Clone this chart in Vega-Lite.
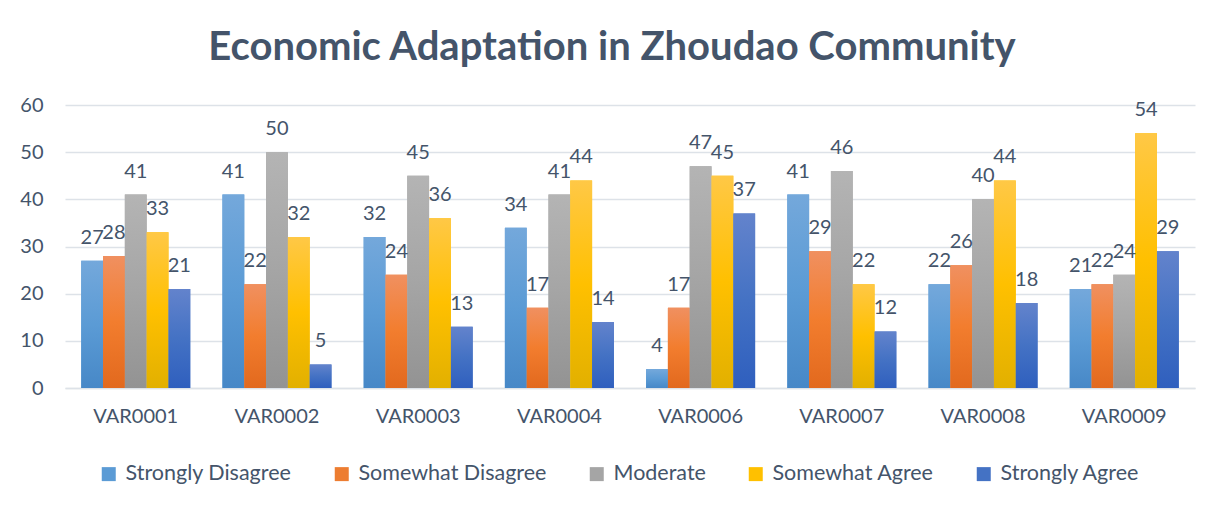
{
  "$schema": "https://vega.github.io/schema/vega-lite/v6.json",
  "width": 1130,
  "height": 283,
  "autosize": "none",
  "padding": {"left": 65, "top": 105, "right": 30, "bottom": 123},
  "background": "white",
  "config": {
    "font": "Lato",
    "view": {"stroke": null},
    "axis": {"labelColor": "#44546A", "labelFont": "Lato", "labelFontSize": 20, "domainColor": "#DDE2E8", "gridColor": "#DDE2E8", "gridWidth": 1.5, "domainWidth": 1.5, "ticks": false, "title": null},
    "legend": {"labelColor": "#44546A", "labelFont": "Lato", "labelFontSize": 21.5, "labelLimit": 400}
  },
  "title": {
    "text": "Economic Adaptation in Zhoudao Community",
    "font": "Lato",
    "fontSize": 40,
    "fontWeight": "bold",
    "color": "#44546A",
    "anchor": "middle",
    "frame": "group",
    "baseline": "alphabetic",
    "offset": -5,
    "dx": -18
  },
  "data": {
    "values": [
      {"var": "VAR0001", "resp": "Strongly Disagree", "value": 27},
      {"var": "VAR0001", "resp": "Somewhat Disagree", "value": 28},
      {"var": "VAR0001", "resp": "Moderate", "value": 41},
      {"var": "VAR0001", "resp": "Somewhat Agree", "value": 33},
      {"var": "VAR0001", "resp": "Strongly Agree", "value": 21},
      {"var": "VAR0002", "resp": "Strongly Disagree", "value": 41},
      {"var": "VAR0002", "resp": "Somewhat Disagree", "value": 22},
      {"var": "VAR0002", "resp": "Moderate", "value": 50},
      {"var": "VAR0002", "resp": "Somewhat Agree", "value": 32},
      {"var": "VAR0002", "resp": "Strongly Agree", "value": 5},
      {"var": "VAR0003", "resp": "Strongly Disagree", "value": 32},
      {"var": "VAR0003", "resp": "Somewhat Disagree", "value": 24},
      {"var": "VAR0003", "resp": "Moderate", "value": 45},
      {"var": "VAR0003", "resp": "Somewhat Agree", "value": 36},
      {"var": "VAR0003", "resp": "Strongly Agree", "value": 13},
      {"var": "VAR0004", "resp": "Strongly Disagree", "value": 34},
      {"var": "VAR0004", "resp": "Somewhat Disagree", "value": 17},
      {"var": "VAR0004", "resp": "Moderate", "value": 41},
      {"var": "VAR0004", "resp": "Somewhat Agree", "value": 44},
      {"var": "VAR0004", "resp": "Strongly Agree", "value": 14},
      {"var": "VAR0006", "resp": "Strongly Disagree", "value": 4},
      {"var": "VAR0006", "resp": "Somewhat Disagree", "value": 17},
      {"var": "VAR0006", "resp": "Moderate", "value": 47},
      {"var": "VAR0006", "resp": "Somewhat Agree", "value": 45},
      {"var": "VAR0006", "resp": "Strongly Agree", "value": 37},
      {"var": "VAR0007", "resp": "Strongly Disagree", "value": 41},
      {"var": "VAR0007", "resp": "Somewhat Disagree", "value": 29},
      {"var": "VAR0007", "resp": "Moderate", "value": 46},
      {"var": "VAR0007", "resp": "Somewhat Agree", "value": 22},
      {"var": "VAR0007", "resp": "Strongly Agree", "value": 12},
      {"var": "VAR0008", "resp": "Strongly Disagree", "value": 22},
      {"var": "VAR0008", "resp": "Somewhat Disagree", "value": 26},
      {"var": "VAR0008", "resp": "Moderate", "value": 40},
      {"var": "VAR0008", "resp": "Somewhat Agree", "value": 44},
      {"var": "VAR0008", "resp": "Strongly Agree", "value": 18},
      {"var": "VAR0009", "resp": "Strongly Disagree", "value": 21},
      {"var": "VAR0009", "resp": "Somewhat Disagree", "value": 22},
      {"var": "VAR0009", "resp": "Moderate", "value": 24},
      {"var": "VAR0009", "resp": "Somewhat Agree", "value": 54},
      {"var": "VAR0009", "resp": "Strongly Agree", "value": 29}
    ]
  },
  "encoding": {
    "x": {"field": "var", "type": "nominal", "scale": {"paddingInner": 0.228, "paddingOuter": 0.115}, "axis": {"labelAngle": 0, "labelPadding": 18, "grid": false}},
    "xOffset": {"field": "resp", "type": "nominal", "scale": {"domain": ["Strongly Disagree", "Somewhat Disagree", "Moderate", "Somewhat Agree", "Strongly Agree"], "paddingInner": 0, "paddingOuter": 0}},
    "y": {"field": "value", "type": "quantitative", "scale": {"domain": [0, 60]}, "axis": {"values": [0, 10, 20, 30, 40, 50, 60], "labelPadding": 22, "domain": false, "grid": true}}
  },
  "layer": [
    {
      "mark": {"type": "bar"},
      "encoding": {
        "color": {"field": "resp", "type": "nominal",
          "scale": {"domain": ["Strongly Disagree", "Somewhat Disagree", "Moderate", "Somewhat Agree", "Strongly Agree"], "range": ["#5B9BD5", "#ED7D31", "#A5A5A5", "#FFC000", "#4472C4"]},
          "legend": {"orient": "none", "direction": "horizontal", "title": null, "legendX": 33, "legendY": 358, "symbolType": "square", "symbolSize": 196, "symbolStrokeWidth": 0, "labelOffset": 6, "columnPadding": 39}}
      }
    },
    {
      "transform": [{"filter": "datum.resp === 'Strongly Disagree'"}],
      "mark": {"type": "bar", "fill": {"gradient": "linear", "x1": 0, "y1": 0, "x2": 0, "y2": 1, "stops": [{"offset": 0, "color": "#74A8DB"}, {"offset": 0.5, "color": "#5B9BD5"}, {"offset": 1, "color": "#4788C7"}]}}
    },
    {
      "transform": [{"filter": "datum.resp === 'Somewhat Disagree'"}],
      "mark": {"type": "bar", "fill": {"gradient": "linear", "x1": 0, "y1": 0, "x2": 0, "y2": 1, "stops": [{"offset": 0, "color": "#F09060"}, {"offset": 0.5, "color": "#F27D2E"}, {"offset": 1, "color": "#E2691E"}]}}
    },
    {
      "transform": [{"filter": "datum.resp === 'Moderate'"}],
      "mark": {"type": "bar", "fill": {"gradient": "linear", "x1": 0, "y1": 0, "x2": 0, "y2": 1, "stops": [{"offset": 0, "color": "#B4B4B4"}, {"offset": 0.5, "color": "#A5A5A5"}, {"offset": 1, "color": "#939393"}]}}
    },
    {
      "transform": [{"filter": "datum.resp === 'Somewhat Agree'"}],
      "mark": {"type": "bar", "fill": {"gradient": "linear", "x1": 0, "y1": 0, "x2": 0, "y2": 1, "stops": [{"offset": 0, "color": "#FFC846"}, {"offset": 0.5, "color": "#FFC000"}, {"offset": 1, "color": "#E2B000"}]}}
    },
    {
      "transform": [{"filter": "datum.resp === 'Strongly Agree'"}],
      "mark": {"type": "bar", "fill": {"gradient": "linear", "x1": 0, "y1": 0, "x2": 0, "y2": 1, "stops": [{"offset": 0, "color": "#6383CC"}, {"offset": 0.5, "color": "#4472C4"}, {"offset": 1, "color": "#2F5FBE"}]}}
    },
    {
      "mark": {"type": "text", "baseline": "alphabetic", "dy": -17, "fontSize": 20, "color": "#44546A", "font": "Lato"},
      "encoding": {"text": {"field": "value", "type": "quantitative"}}
    }
  ]
}
